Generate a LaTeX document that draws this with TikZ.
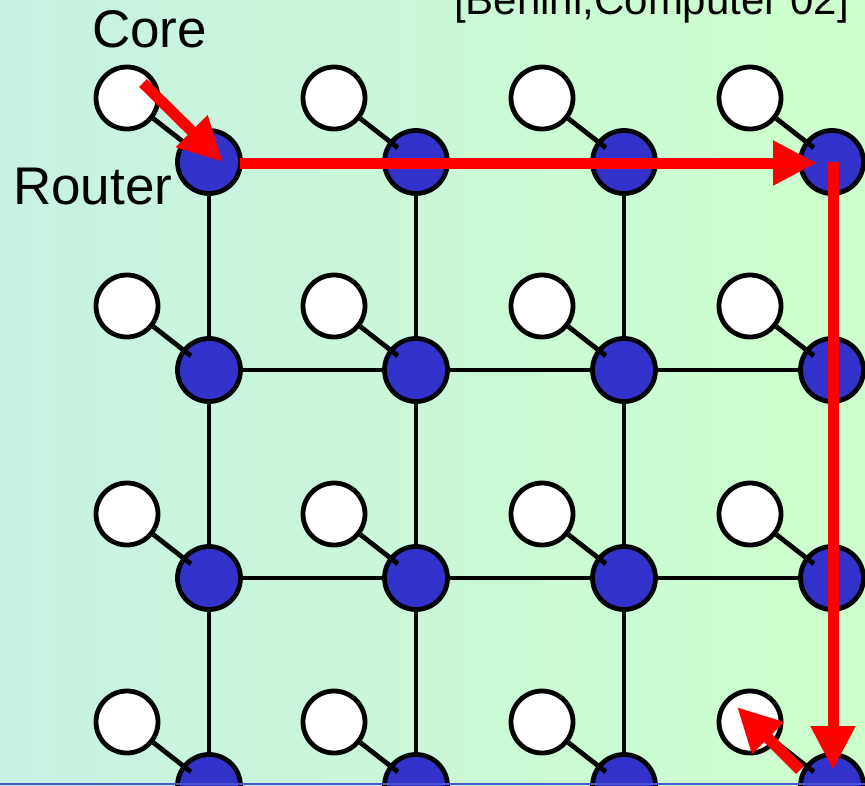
\documentclass[tikz,border=0pt]{standalone}
\usepackage{fontspec}
\setmainfont{Liberation Sans}
\usetikzlibrary{arrows.meta,calc}
\pgfdeclarelayer{background}
\pgfsetlayers{background,main}
\definecolor{routerblue}{RGB}{51,51,204}
\definecolor{bgleft}{RGB}{200,241,226}
\definecolor{bgright}{RGB}{204,255,204}
\definecolor{flowred}{RGB}{255,0,0}
\definecolor{edgeblue}{RGB}{72,84,204}
\begin{document}
\begin{tikzpicture}[x=1pt,y=-1pt,
  router/.style={circle,draw=black,line width=4.8pt,fill=routerblue,minimum size=63pt,inner sep=0pt},
  core/.style={circle,draw=black,line width=4.8pt,fill=white,minimum size=62pt,inner sep=0pt},
  link/.style={draw=black,line width=4.8pt},
  flow/.style={draw=flowred,line width=11pt,-{Triangle[length=44pt,width=42pt]}},
  lbl/.style={font=\fontsize{53}{64}\selectfont,inner sep=0pt}]
\useasboundingbox (0,0) rectangle (865,785);
% nodes
\foreach \i/\x in {1/209,2/416,3/624,4/832}{
  \foreach \j/\y in {1/162,2/370,3/578,4/786}{
    \node[router] (r\i\j) at (\x,\y) {};
    \node[core] (c\i\j) at ($(\x,\y)+(-82,-64)$) {};
  }
}
\begin{pgfonlayer}{background}
  \shade[left color=bgleft,right color=bgright] (0,0) rectangle (865,785);
  \foreach \i in {1,2,3,4}{
    \foreach \j/\k in {1/2,2/3,3/4}{
      \draw[link] (r\i\j.center) -- (r\i\k.center);
    }
  }
  \foreach \j in {1,2,3}{
    \foreach \i/\k in {1/2,2/3,3/4}{
      \draw[link] (r\i\j.center) -- (r\k\j.center);
    }
  }
\end{pgfonlayer}
% core-router links
\foreach \i in {1,2,3,4}{
  \foreach \j in {1,2,3,4}{
    \draw[link] (c\i\j) -- ($(r\i\j.center)!23pt!(c\i\j.center)$);
  }
}
% labels
\node[lbl,anchor=base west] (corelbl) at (92,47) {Core};
\node[lbl,anchor=base west] (routerlbl) at (13,204) {Router};
\node[font=\fontsize{42}{50}\selectfont,inner sep=0pt,anchor=base east] (cite) at (849,14) {[Benini,Computer 02]};
% red route
\draw[flow] ($(c11.center)+(16,-15)$) -- ($(r11.center)+(14,0)$);
\draw[flow] ($(r11.center)+(31,1)$) -- ($(r41.center)+(-15,1)$);
\draw[flow] ($(r41.center)+(1,0)$) -- ($(r44.center)+(1,-16)$);
\draw[flow] ($(r44.center)+(-32,-16)$) -- ($(c44.center)+(-13,-15)$);
% bottom edge
\fill[edgeblue] (0,782.5) rectangle (865,785);
\end{tikzpicture}
\end{document}
